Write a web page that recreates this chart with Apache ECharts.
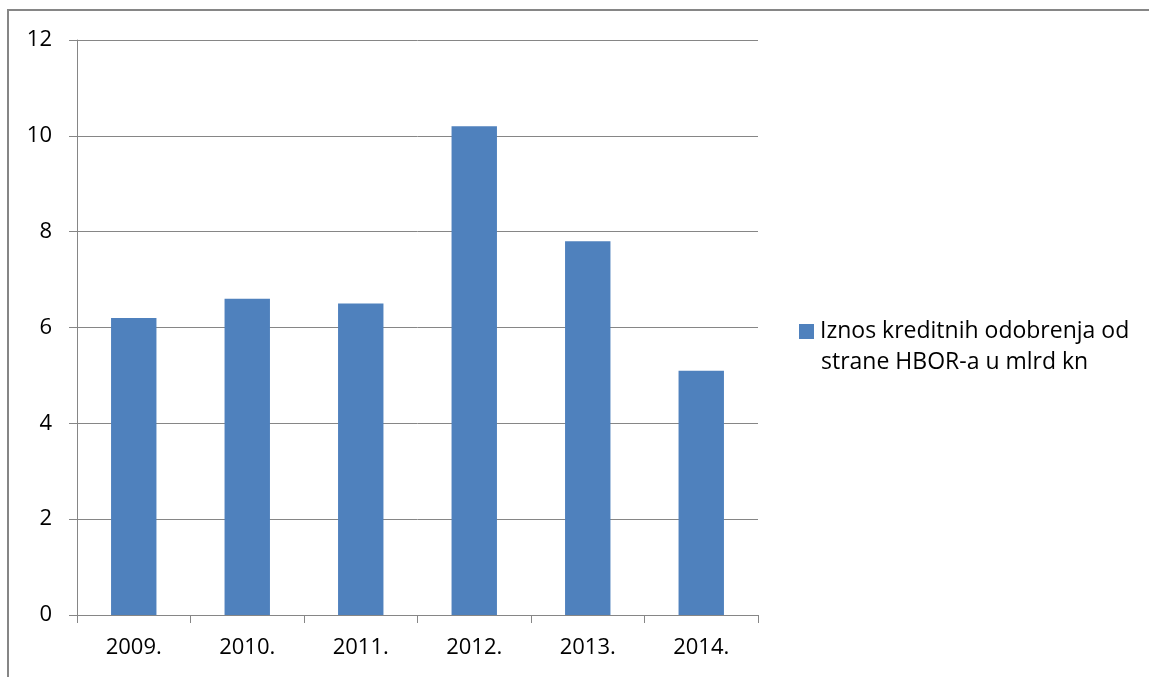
<!DOCTYPE html>
<html><head><meta charset="utf-8">
<script src="https://cdn.jsdelivr.net/npm/echarts@6/dist/echarts.min.js"></script>
<style>html,body{margin:0;padding:0;background:#fff}#c{width:1149px;height:677px}</style>
</head><body><div id="c"></div>
<script>
const categories = ['2009.', '2010.', '2011.', '2012.', '2013.', '2014.'];
const values = [6.2, 6.6, 6.5, 10.2, 7.8, 5.1];
const seriesName = 'Iznos kreditnih odobrenja od';
const seriesName2 = 'strane HBOR-a u mlrd kn';
const FONT = 'Open Sans';
const chart = echarts.init(document.getElementById('c'));
chart.setOption({
  animation: false,
  grid: {left: 77, right: 391, top: 40, bottom: 62},
  legend: {
    left: 794, top: 315, itemWidth: 15, itemHeight: 15, itemGap: 0,
    icon: 'rect',
    textStyle: {fontFamily: FONT, fontSize: 23, color: '#000', padding: [0,0,0,1]},
    data: [seriesName]
  },
  graphic: [
    {type: 'rect', silent: true, shape: {x: 8, y: 10, width: 1300, height: 800}, style: {fill: 'none', stroke: '#868686', lineWidth: 2}},
    {type: 'text', left: 821, top: 351, style: {text: seriesName2, font: '23px "Open Sans"', fill: '#000'}}
  ],
  xAxis: {
    type: 'category', data: categories,
    axisLine: {lineStyle: {color: '#868686', width: 1}},
    axisTick: {show: true, length: 8, lineStyle: {color: '#868686'}},
    axisLabel: {color: '#000', fontFamily: FONT, fontSize: 22, margin: 22}
  },
  yAxis: {
    type: 'value', min: 0, max: 12, interval: 2,
    axisLine: {show: true, lineStyle: {color: '#868686', width: 1}},
    axisTick: {show: true, length: 8, lineStyle: {color: '#868686'}},
    splitLine: {lineStyle: {color: '#868686', width: 1}},
    axisLabel: {color: '#000', fontFamily: FONT, fontSize: 22, margin: 25}
  },
  series: [{
    name: seriesName, type: 'bar', data: values, barWidth: '40%',
    itemStyle: {color: '#4F81BD'}
  }]
});
</script></body></html>
